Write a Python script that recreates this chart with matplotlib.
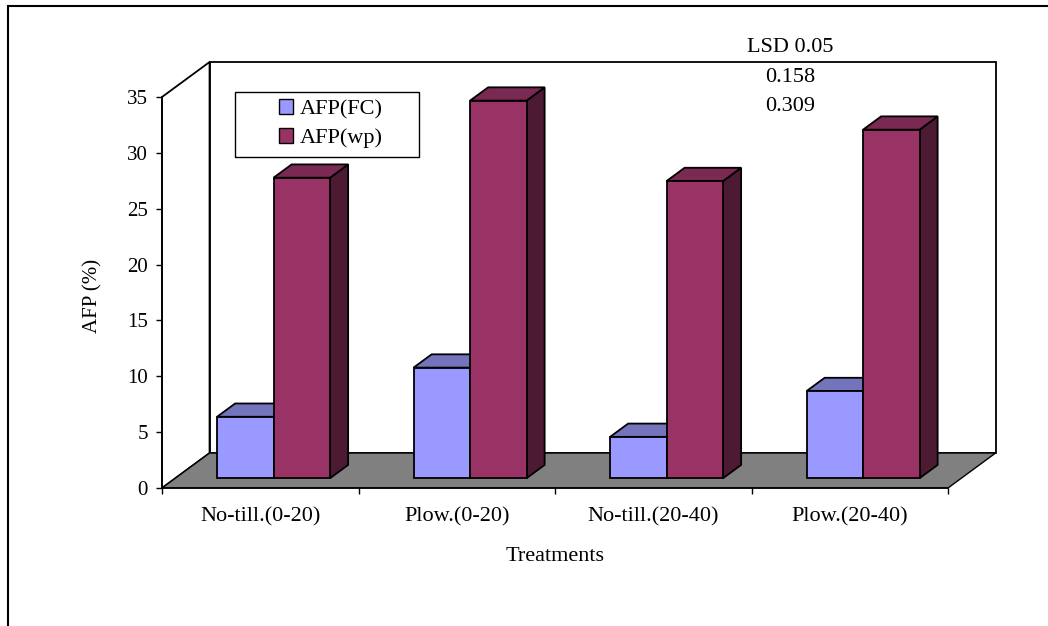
import matplotlib.pyplot as plt
from matplotlib.patches import Polygon, Rectangle, Patch

plt.rcParams['font.family'] = ['Liberation Serif', 'DejaVu Serif']

treatments = ['No-till.(0-20)', 'Plow.(0-20)', 'No-till.(20-40)', 'Plow.(20-40)']
afp_fc = [5.5, 9.9, 3.7, 7.8]
afp_wp = [26.9, 33.8, 26.6, 31.2]
series_names = ['AFP(FC)', 'AFP(wp)']
lsd_lines = ['LSD 0.05', '0.158', '0.309']
y_ticks = [0, 5, 10, 15, 20, 25, 30, 35]

# face colours: front, top, side
colors = {
    'AFP(FC)': ('#9999FF', '#7474BC', '#4D4D80'),
    'AFP(wp)': ('#993366', '#7A2952', '#4D1A33'),
}

# oblique projection of the depth axis, in data units for the full floor depth
DX, DY = 0.242, 3.13
bar_w = 0.2875
d0, d1 = 0.28, 0.66   # front/back of the columns as a fraction of floor depth
ymax = 35
ncat = len(treatments)


def proj(x, y, d):
    return (x + d * DX, y + d * DY)


fig = plt.figure(figsize=(10.48, 6.26), dpi=100)
ax = fig.add_axes([162 / 1048, 138 / 626, 786 / 1048, 391 / 626])
ax.set_xlim(0, ncat)
ax.set_ylim(0, ymax)
ax.patch.set_visible(False)

lw = 1.3
# back wall, left wall and floor
wall = Polygon([proj(0, 0, 1), proj(ncat, 0, 1), proj(ncat, ymax, 1), proj(0, ymax, 1)],
               closed=True, facecolor='white', edgecolor='black', lw=lw, zorder=0.5, clip_on=False)
ax.add_patch(wall)
side = Polygon([proj(0, 0, 0), proj(0, 0, 1), proj(0, ymax, 1), proj(0, ymax, 0)],
               closed=True, facecolor='white', edgecolor='black', lw=lw, zorder=0.6, clip_on=False)
ax.add_patch(side)
floor = Polygon([proj(0, 0, 0), proj(ncat, 0, 0), proj(ncat, 0, 1), proj(0, 0, 1)],
                closed=True, facecolor='#808080', edgecolor='black', lw=1.0, zorder=0.7, clip_on=False)
ax.add_patch(floor)

# columns
for i in range(ncat):
    left = i + 0.5 - bar_w
    for j, (name, vals) in enumerate(zip(series_names, [afp_fc, afp_wp])):
        v = vals[i]
        x0 = left + j * bar_w
        x1 = x0 + bar_w
        front, top, sidec = colors[name]
        z = 2 + i + j * 0.1
        ax.add_patch(Polygon([proj(x1, 0, d0), proj(x1, 0, d1), proj(x1, v, d1), proj(x1, v, d0)],
                             closed=True, facecolor=sidec, edgecolor='black', lw=lw, zorder=z, clip_on=False))
        ax.add_patch(Polygon([proj(x0, v, d0), proj(x1, v, d0), proj(x1, v, d1), proj(x0, v, d1)],
                             closed=True, facecolor=top, edgecolor='black', lw=lw, zorder=z, clip_on=False))
        ax.bar(x0 + d0 * DX, v, bar_w, bottom=d0 * DY, align='edge', color=front,
               edgecolor='black', lw=lw, zorder=z + 0.01, clip_on=False)

# axes
for s in ['top', 'right']:
    ax.spines[s].set_visible(False)
for s in ['left', 'bottom']:
    ax.spines[s].set_linewidth(1.1)
    ax.spines[s].set_zorder(10)

ax.set_yticks(y_ticks)
ax.tick_params(axis='y', direction='out', length=4.5, width=1, pad=5.5, labelsize=15)
ax.set_xticks(range(ncat + 1))
ax.set_xticklabels([''] * (ncat + 1))
ax.set_xticks([i + 0.5 for i in range(ncat)], minor=True)
ax.set_xticklabels(treatments, minor=True, fontsize=16)
ax.tick_params(axis='x', which='major', direction='out', length=4.5, width=1)
ax.tick_params(axis='x', which='minor', length=0, pad=14)

ax.set_ylabel('AFP (%)', fontsize=15)
ax.yaxis.set_label_coords(-0.076, 0.49)
ax.set_xlabel('Treatments', fontsize=16)
ax.xaxis.set_label_coords(0.5, -0.15)

# legend with its own frame
ax.add_patch(Rectangle((0.0929, 0.8465), 0.2341, 0.1663, transform=ax.transAxes,
                       facecolor='white', edgecolor='black', lw=1.0, zorder=20, clip_on=False))
handles = [Patch(facecolor=colors[n][0], edgecolor='black', lw=1.0) for n in series_names]
leg = ax.legend(handles, series_names, loc='upper left', bbox_to_anchor=(0.1489, 0.995),
                borderpad=0, borderaxespad=0, frameon=False, fontsize=16,
                handlelength=0.65, handleheight=0.65, handletextpad=0.3, labelspacing=0.4)
leg.set_zorder(21)

for k, t in enumerate(lsd_lines):
    fig.text(790 / 1048, 1 - (52 + 29.5 * k) / 626, t, ha='center', va='baseline', fontsize=16)

# outer chart frame
fig.patches.append(Rectangle((8 / 1048, -0.1), 1.2, 1.1 - 6 / 626, transform=fig.transFigure,
                             fill=False, edgecolor='black', lw=1.5))

fig.savefig('out.png', dpi=100)
